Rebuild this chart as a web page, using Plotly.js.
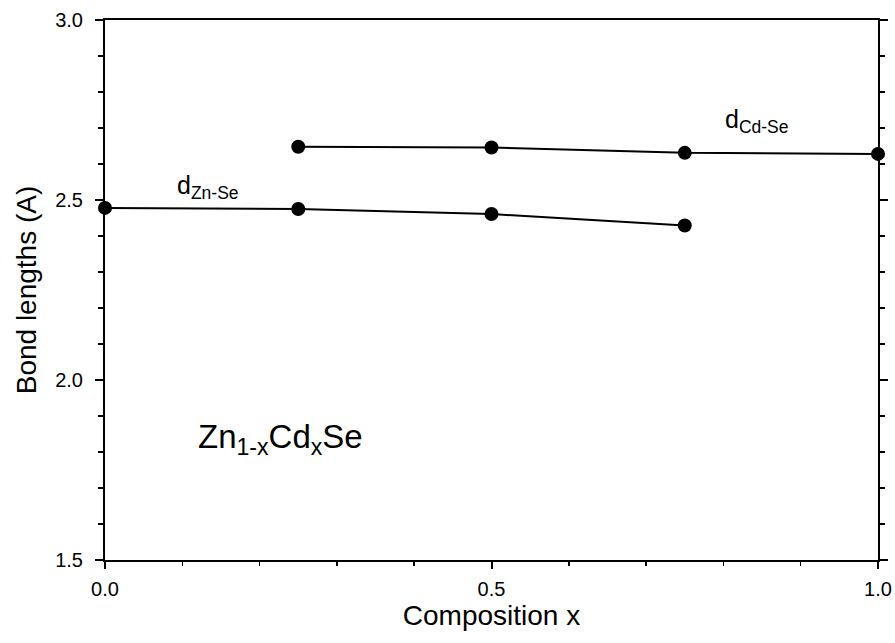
<!DOCTYPE html>
<html>
<head>
<meta charset="utf-8">
<script src="https://cdn.plot.ly/plotly-3.0.1.min.js"></script>
<style>html,body{margin:0;padding:0;background:#fff;}#chart{width:895px;height:643px;}</style>
</head>
<body>
<div id="chart"></div>
<script>
// Composition x values and bond lengths (Å)
var xZnSe = [0, 0.25, 0.5, 0.75];
var yZnSe = [2.478, 2.475, 2.461, 2.429];
var xCdSe = [0.25, 0.5, 0.75, 1.0];
var yCdSe = [2.648, 2.646, 2.631, 2.628];

var xTickVals = [0, 0.5, 1.0];
var xTickText = ["0.0", "0.5", "1.0"];
var yTickVals = [1.5, 2.0, 2.5, 3.0];
var yTickText = ["1.5", "2.0", "2.5", "3.0"];

var FONT = "Arial, 'Liberation Sans', Helvetica, sans-serif";

var common = {
  mode: 'lines+markers',
  line: {color: '#000', width: 2},
  marker: {color: '#000', size: 14},
  cliponaxis: false,
  showlegend: false,
  hoverinfo: 'x+y'
};

var traces = [
  Object.assign({x: xZnSe, y: yZnSe, name: 'd Zn-Se'}, common),
  Object.assign({x: xCdSe, y: yCdSe, name: 'd Cd-Se'}, common)
];

var layout = {
  width: 895, height: 643,
  margin: {l: 105, r: 17, t: 20, b: 83},
  paper_bgcolor: '#fff', plot_bgcolor: '#fff',
  font: {family: FONT, color: '#000'},
  xaxis: {
    range: [0, 1.0],
    tickvals: xTickVals, ticktext: xTickText,
    ticks: 'outside', ticklen: 7, tickwidth: 2, tickcolor: '#000',
    minor: {dtick: 0.1, tick0: 0, ticks: 'outside', ticklen: 4, tickwidth: 1.5, tickcolor: '#000', showgrid: false},
    showline: true, linewidth: 2, linecolor: '#000', mirror: true,
    showgrid: false, zeroline: false,
    tickfont: {family: FONT, size: 20, color: '#000'},
    ticklabelstandoff: 3,
    title: {text: 'Composition x', font: {family: FONT, size: 28, color: '#000'}, standoff: 4}
  },
  yaxis: {
    range: [1.5, 3.0],
    tickvals: yTickVals, ticktext: yTickText,
    ticks: 'outside', ticklen: 8, tickwidth: 2, tickcolor: '#000',
    minor: {dtick: 0.1, tick0: 1.5, ticks: 'outside', ticklen: 5, tickwidth: 1.5, tickcolor: '#000', showgrid: false},
    showline: true, linewidth: 2, linecolor: '#000', mirror: 'ticks',
    showgrid: false, zeroline: false,
    tickfont: {family: FONT, size: 20, color: '#000'},
    ticklabelstandoff: 8,
    title: {text: 'Bond lengths (A)', font: {family: FONT, size: 28, color: '#000'}, standoff: 10}
  },
  annotations: [
    {x: 0.0906, y: 2.535, xref: 'x', yref: 'y', xanchor: 'left', yanchor: 'middle', showarrow: false,
     text: 'd<sub>Zn-Se</sub>', font: {family: FONT, size: 25, color: '#000'}},
    {x: 0.7995, y: 2.72, xref: 'x', yref: 'y', xanchor: 'left', yanchor: 'middle', showarrow: false,
     text: 'd<sub>Cd-Se</sub>', font: {family: FONT, size: 25, color: '#000'}},
    {x: 0.118, y: 1.836, xref: 'x', yref: 'y', xanchor: 'left', yanchor: 'middle', showarrow: false,
     text: 'Zn<sub>1-x</sub>Cd<sub>x</sub>Se', font: {family: FONT, size: 33, color: '#000'}}
  ]
};

Plotly.newPlot('chart', traces, layout, {displayModeBar: false, staticPlot: true});
</script>
</body>
</html>
